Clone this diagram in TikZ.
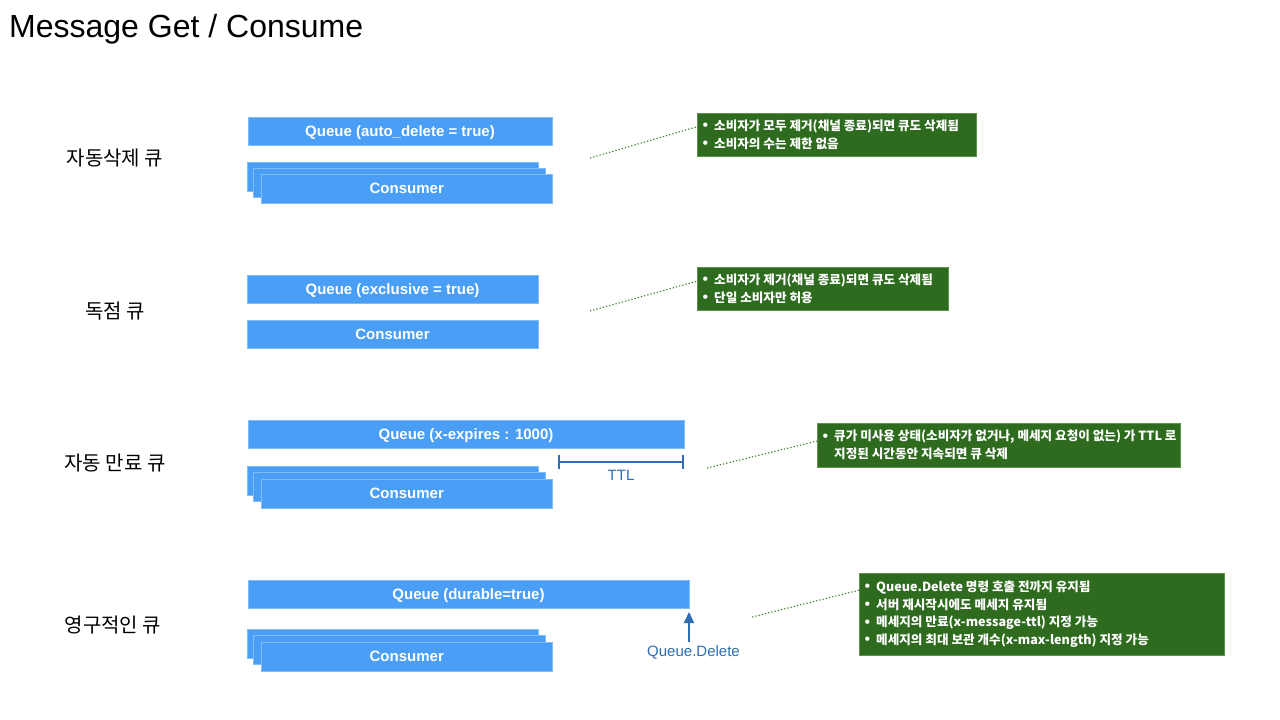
\documentclass[tikz,border=0pt]{standalone}
\usepackage{fontspec}
\setmainfont{Liberation Sans}
\newfontfamily\krfont{Noto Sans CJK KR}
\usetikzlibrary{calc,arrows.meta}

\definecolor{qblue}{HTML}{4A9EF5}
\definecolor{qedge}{HTML}{80BDF8}
\definecolor{notegreen}{HTML}{2E6B1F}
\definecolor{noteedge}{HTML}{5C9249}
\definecolor{dotgreen}{HTML}{3F7F2F}
\definecolor{markblue}{HTML}{2F6DB5}

\newcommand\bul{\makebox[11.5pt][l]{\normalfont\fontsize{16}{16}\selectfont\raisebox{-0.5pt}{•}}}

\tikzset{
  qbox/.style={draw=qedge, line width=0.8pt, fill=qblue, text=white,
    font=\fontsize{15}{18}\selectfont\bfseries, inner sep=0pt, outer sep=0pt,
    text height=10.5pt, text depth=0pt, anchor=north west},
  notebox/.style={draw=noteedge, line width=0.8pt, fill=notegreen,
    inner sep=0pt, outer sep=0pt, anchor=north west},
  notetext/.style={text=white, font=\krfont\bfseries\fontsize{12.6}{17.6}\selectfont,
    inner sep=0pt, anchor=west, align=left},
  rowlabel/.style={font=\krfont\fontsize{20}{23}\selectfont},
  link/.style={dotgreen, line width=1.1pt, dash pattern=on 1.3pt off 2pt},
  bluelabel/.style={text=markblue, font=\fontsize{15}{18}\selectfont},
}

\begin{document}
\begin{tikzpicture}[x=1pt, y=-1pt]
\useasboundingbox (0,0) rectangle (1280,720);
\fill[white] (0,0) rectangle (1280,720);

% title
\node[anchor=base west, inner sep=0pt, font=\fontsize{32}{36}\selectfont] (title) at (9,37) {Message Get / Consume};

% ---------- auto-delete queue ----------
\node[rowlabel] (l1) at (115,158) {자동삭제 큐};
\node[qbox, minimum width=304pt, minimum height=28pt] (q1) at (248,117) {Queue (auto\_delete = true)};
\node[qbox, minimum width=291pt, minimum height=29pt] (c1a) at (247.5,162) {};
\node[qbox, minimum width=292pt, minimum height=29pt] (c1b) at (253.5,168) {};
\node[qbox, minimum width=291.5pt, minimum height=29pt] (c1c) at (261,174) {Consumer};
\node[notebox, minimum width=279pt, minimum height=43pt] (g1) at (697,113) {};
\node[notetext] (t1) at ([xshift=5.5pt]g1.west) {\bul 소비자가 모두 제거(채널 종료)되면 큐도 삭제됨\\\bul 소비자의 수는 제한 없음};
\coordinate (d1) at (590,158);
\draw[link] (d1) -- ($(g1.north west)!0.32!(g1.south west)$);

% ---------- exclusive queue ----------
\node[rowlabel] (l2) at (115,311) {독점 큐};
\node[qbox, minimum width=291pt, minimum height=28pt] (q2) at (247,275) {Queue (exclusive = true)};
\node[qbox, minimum width=291pt, minimum height=28pt] (c2) at (247,320) {Consumer};
\node[notebox, minimum width=251pt, minimum height=43pt] (g2) at (697,267) {};
\node[notetext] (t2) at ([xshift=5.5pt]g2.west) {\bul 소비자가 제거(채널 종료)되면 큐도 삭제됨\\\bul 단일 소비자만 허용};
\coordinate (d2) at (590,311);
\draw[link] (d2) -- ($(g2.north west)!0.33!(g2.south west)$);

% ---------- expiring queue ----------
\node[rowlabel] (l3) at (115,463) {자동 만료 큐};
\node[qbox, minimum width=436pt, minimum height=28pt] (q3) at (248,420) {Queue (x-expires : 1000)};
\node[qbox, minimum width=291pt, minimum height=29pt] (c3a) at (247.5,466) {};
\node[qbox, minimum width=292pt, minimum height=29pt] (c3b) at (253.5,472) {};
\node[qbox, minimum width=291.5pt, minimum height=29pt] (c3c) at (261,479) {Consumer};
\coordinate (ttlL) at (558,462);
\draw[markblue, line width=2pt, {Bar[width=14pt]}-{Bar[width=14pt]}] (ttlL) -- (ttlL -| q3.east);
\node[bluelabel] (ttl) at (621,475) {TTL};
\node[notebox, minimum width=363pt, minimum height=44pt] (g3) at (817,423) {};
\node[notetext] (t3) at ([xshift=5.5pt]g3.west) {\bul 큐가 미사용 상태(소비자가 없거나, 메세지 요청이 없는) 가 TTL 로\\\hspace*{11.5pt}지정된 시간동안 지속되면 큐 삭제};
\coordinate (d3) at (707,468);
\draw[link] (d3) -- ($(g3.north west)!0.41!(g3.south west)$);

% ---------- durable queue ----------
\node[rowlabel] (l4) at (113,625) {영구적인 큐};
\node[qbox, minimum width=441pt, minimum height=28pt] (q4) at (248,580) {Queue (durable=true)};
\node[qbox, minimum width=291pt, minimum height=29pt] (c4a) at (247.5,629) {};
\node[qbox, minimum width=292pt, minimum height=29pt] (c4b) at (253.5,635) {};
\node[qbox, minimum width=291.5pt, minimum height=29pt] (c4c) at (261,642) {Consumer};
\node[bluelabel] (qdel) at (693.5,652) {Queue.Delete};
\draw[markblue, line width=2pt, -{Triangle[width=10pt,length=11pt]}] (qdel.north -| q4.east) -- ([yshift=-4pt]q4.south east);
\node[notebox, minimum width=365pt, minimum height=82pt] (g4) at (859,573) {};
\node[notetext] (t4) at ([xshift=5.5pt]g4.west) {\bul Queue.Delete 명령 호출 전까지 유지됨\\\bul 서버 재시작시에도 메세지 유지됨\\\bul 메세지의 만료(x-message-ttl) 지정 가능\\\bul 메세지의 최대 보관 개수(x-max-length) 지정 가능};
\coordinate (d4) at (752,617);
\draw[link] (d4) -- ($(g4.north west)!0.21!(g4.south west)$);
\end{tikzpicture}
\end{document}
